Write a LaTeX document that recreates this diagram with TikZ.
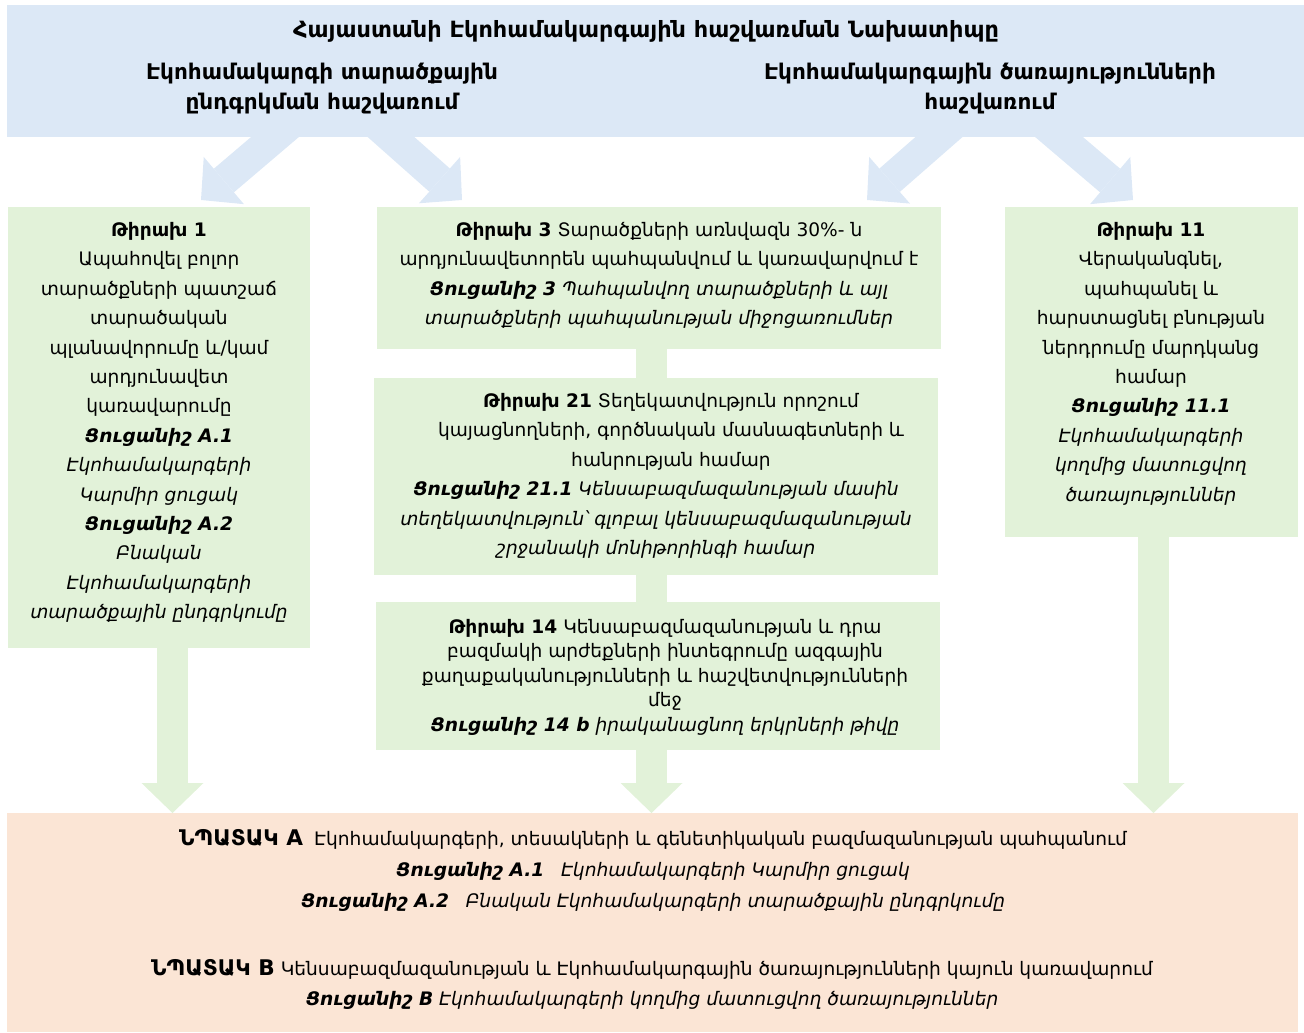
\documentclass[tikz,border=0pt]{standalone}
\usepackage{fontspec}
\setmainfont{DejaVu Sans}
\usetikzlibrary{arrows.meta, calc, backgrounds}
\definecolor{planblue}{RGB}{220,232,246}
\definecolor{targetgreen}{RGB}{226,242,217}
\definecolor{goalpeach}{RGB}{251,229,213}
\newcommand\bodyfont{\fontsize{9.3}{14.7}\selectfont}
\newcommand\headfont{\fontsize{10.8}{15}\selectfont\bfseries}
\newcommand\goalfont{\fontsize{10.8}{12}\selectfont\bfseries}
\newcommand\indicator[1]{\textbf{\textit{#1}}}
\tikzset{
  box/.style={inner sep=0pt, outer sep=0pt},
  bluebox/.style={box, fill=planblue},
  greenbox/.style={box, fill=targetgreen},
  goalbox/.style={box, fill=goalpeach},
  txt/.style={anchor=north, align=center, inner sep=0pt, font=\bodyfont},
  bluearrow/.style={draw=planblue, line width=15.5pt, -{Triangle[length=15pt,width=31pt,line width=0pt]}},
  greenbar/.style={draw=targetgreen, line width=15.5pt},
  greenarrow/.style={greenbar, -{Triangle[length=15pt,width=31pt,line width=0pt]}}
}

\begin{document}
\begin{tikzpicture}[x=0.5pt, y=-0.5pt]
  \useasboundingbox (0,0) rectangle (1304,1032);
  % boxes
  \node[bluebox, minimum width=648.5pt, minimum height=66pt] (plan) at (655.5,71) {};
  \node[greenbox, minimum width=151pt, minimum height=220.5pt] (t1) at (159,427.5) {};
  \node[greenbox, minimum width=282pt, minimum height=71pt] (t3) at (659,278) {};
  \node[greenbox, minimum width=282pt, minimum height=98.5pt] (t21) at (656,476.5) {};
  \node[greenbox, minimum width=282pt, minimum height=74pt] (t14) at (658,676) {};
  \node[greenbox, minimum width=146.5pt, minimum height=165pt] (t11) at (1151.5,372) {};
  \node[goalbox, minimum width=645.5pt, minimum height=109.5pt] (goals) at (652.5,922.5) {};

  % texts
  \node[txt, font=\headfont\fontsize{11.2}{15}\selectfont] (title) at (646,20) {Հայաստանի Էկոհամակարգային հաշվառման Նախատիպը};
  \node[txt, font=\headfont] (areasub) at (322,63) {Էկոհամակարգի տարածքային\\ընդգրկման հաշվառում};
  \node[txt, font=\headfont] (servsub) at (990,63) {Էկոհամակարգային ծառայությունների\\հաշվառում};
  \node[txt] (t1txt) at (159,222) {\textbf{Թիրախ 1}\\Ապահովել բոլոր\\տարածքների պատշաճ\\տարածական\\պլանավորումը և/կամ\\արդյունավետ\\կառավարումը\\\indicator{Ցուցանիշ A.1}\\\textit{Էկոհամակարգերի}\\\textit{Կարմիր ցուցակ}\\\indicator{Ցուցանիշ A.2}\\\textit{Բնական}\\\textit{Էկոհամակարգերի}\\\textit{տարածքային ընդգրկումը}};
  \node[txt] (t3txt) at (659,222) {\textbf{Թիրախ 3} Տարածքների առնվազն 30\%- ն\\արդյունավետորեն պահպանվում և կառավարվում է\\\indicator{Ցուցանիշ 3} \textit{Պահպանվող տարածքների և այլ}\\\textit{տարածքների պահպանության միջոցառումներ}};
  \node[txt] (t21txt) at (656,393) {\hspace*{15pt}\textbf{Թիրախ 21} Տեղեկատվություն որոշում\\\hspace*{15pt}կայացնողների, գործնական մասնագետների և\\\hspace*{15pt}հանրության համար\\\indicator{Ցուցանիշ 21.1} \textit{Կենսաբազմազանության մասին}\\\textit{տեղեկատվություն՝ գլոբալ կենսաբազմազանության}\\\textit{շրջանակի մոնիթորինգի համար}};
  \node[txt, font=\fontsize{9.3}{12.2}\selectfont] (t14txt) at (665,619) {\textbf{Թիրախ 14} Կենսաբազմազանության և դրա\\բազմակի արժեքների ինտեգրումը ազգային\\քաղաքականությունների և հաշվետվությունների\\մեջ\\\indicator{Ցուցանիշ 14 b} \textit{իրականացնող երկրների թիվը}};
  \node[txt] (t11txt) at (1151,222) {\textbf{Թիրախ 11}\\Վերականգնել,\\պահպանել և\\հարստացնել բնության\\ներդրումը մարդկանց\\համար\\\indicator{Ցուցանիշ 11.1}\\\textit{Էկոհամակարգերի}\\\textit{կողմից մատուցվող}\\\textit{ծառայություններ}};
  \node[txt, font=\fontsize{9.3}{15.5}\selectfont] (goalatxt) at (653,829) {{\goalfont ՆՊԱՏԱԿ A}\hspace{0.6em}Էկոհամակարգերի, տեսակների և գենետիկական բազմազանության պահպանում\\\indicator{Ցուցանիշ A.1}\hspace{0.9em}\textit{Էկոհամակարգերի Կարմիր ցուցակ}\\\indicator{Ցուցանիշ A.2}\hspace{0.9em}\textit{Բնական Էկոհամակարգերի տարածքային ընդգրկումը}};
  \node[txt, font=\fontsize{9.3}{15}\selectfont] (goalbtxt) at (652,959) {{\goalfont ՆՊԱՏԱԿ B} Կենսաբազմազանության և Էկոհամակարգային ծառայությունների կայուն կառավարում\\\indicator{Ցուցանիշ B} \textit{Էկոհամակարգերի կողմից մատուցվող ծառայություններ}};

  % connectors
  \coordinate (spine) at (651.5,0);
  \coordinate (leftx) at (172.5,0);
  \coordinate (rightx) at (1153.5,0);
  \coordinate (b1) at (201,200);
  \coordinate (b2) at (462,200);
  \coordinate (b3) at (867,200);
  \coordinate (b4) at (1133,200);
  \begin{scope}[on background layer]
    \draw[bluearrow, shorten <=-12pt] ($(plan.south west)+(268,0)$) -- (b1);
    \draw[bluearrow, shorten <=-12pt] ($(plan.south west)+(384,0)$) -- (b2);
    \draw[bluearrow, shorten <=-12pt] ($(plan.south west)+(932,0)$) -- (b3);
    \draw[bluearrow, shorten <=-12pt] ($(plan.south west)+(1052,0)$) -- (b4);
  \end{scope}
  \draw[greenbar] (t3.south -| spine) -- (t21.north -| spine);
  \draw[greenbar] (t21.south -| spine) -- (t14.north -| spine);
  \draw[greenarrow] (t14.south -| spine) -- (goals.north -| spine);
  \draw[greenarrow] (t1.south -| leftx) -- (goals.north -| leftx);
  \draw[greenarrow] (t11.south -| rightx) -- (goals.north -| rightx);
\end{tikzpicture}
\end{document}
